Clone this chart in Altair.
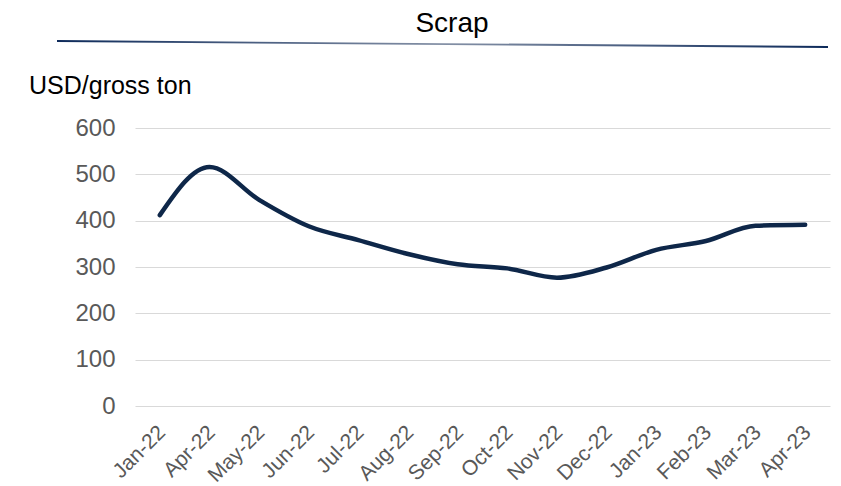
import altair as alt
import pandas as pd

# Monthly scrap price, USD per gross ton
months = ["Jan-22", "Apr-22", "May-22", "Jun-22", "Jul-22", "Aug-22", "Sep-22",
          "Oct-22", "Nov-22", "Dec-22", "Jan-23", "Feb-23", "Mar-23", "Apr-23"]
prices = [412, 516, 445, 388, 358, 328, 306, 297, 277, 299, 337, 356, 389, 391]
y_ticks = [0, 100, 200, 300, 400, 500, 600]

df = pd.DataFrame({"month": months, "price": prices})
single = pd.DataFrame({"k": [0]})

FONT = "Liberation Sans"
NAVY = "#0e2749"

line = alt.Chart(df).mark_line(
    color=NAVY, strokeWidth=4.5, interpolate="monotone", strokeCap="round"
).encode(
    x=alt.X("month:N", sort=months, title=None,
            scale=alt.Scale(paddingInner=0, paddingOuter=0),
            axis=alt.Axis(labelAngle=-45, labelFontSize=21, labelColor="#595959",
                          labelFont=FONT, ticks=False, domain=False,
                          labelPadding=23, labelAlign="right", labelBaseline="middle",
                          labelOffset=2)),
    y=alt.Y("price:Q", title=None,
            scale=alt.Scale(domain=[0, 600], nice=False),
            axis=alt.Axis(values=y_ticks, labelFontSize=24, labelColor="#595959",
                          labelFont=FONT, ticks=False, domain=False,
                          labelPadding=20, gridColor="#d9d9d9", gridWidth=1)),
)

title_text = alt.Chart(single).mark_text(
    text="Scrap", fontSize=28, font=FONT, color="black", align="center",
    baseline="alphabetic"
).encode(x=alt.value(317), y=alt.value(-96))

unit_text = alt.Chart(single).mark_text(
    text="USD/gross ton", fontSize=25, font=FONT, color="black", align="left",
    baseline="alphabetic"
).encode(x=alt.value(-106), y=alt.value(-34))

header_rule = alt.Chart(single).mark_rule(
    strokeWidth=1.8,
    stroke=alt.Gradient(
        gradient="linear",
        stops=[alt.GradientStop(color="#0d2a5a", offset=0),
               alt.GradientStop(color="#8591a6", offset=0.5),
               alt.GradientStop(color="#0d2a5a", offset=1)],
        x1=0, x2=1, y1=0, y2=0),
).encode(x=alt.value(-78), x2=alt.value(693), y=alt.value(-87), y2=alt.value(-81))

chart = alt.layer(line, title_text, unit_text, header_rule).properties(
    width=695, height=278,
    autosize=alt.AutoSizeParams(type="none"),
    padding={"left": 135, "top": 128, "right": 11, "bottom": 80},
).configure_view(stroke=None)

chart.save("out.html", embed_options={"renderer": "svg", "actions": False})
